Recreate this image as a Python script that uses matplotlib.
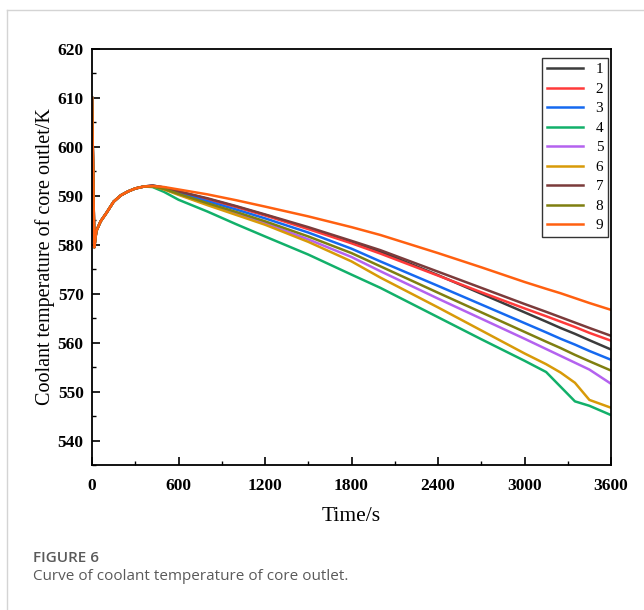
import matplotlib
matplotlib.use('Agg')
import matplotlib.pyplot as plt
from matplotlib.ticker import MultipleLocator
from matplotlib.lines import Line2D

# shared start-up transient (all cases overlap here)
t_start = [0, 8, 16, 30, 60, 100, 150, 200, 250, 300, 360]
T_start = [610, 595, 579.5, 582.8, 584.8, 586.5, 588.8, 590.1, 590.9, 591.5, 591.9]

# per-case decline after the peak
t_tail = [420, 500, 600, 800, 1000, 1200, 1500, 1800, 2000, 2400, 2700, 3000, 3150, 3250, 3350, 3450, 3600]

T1 = [592.1, 591.7, 590.9, 589.4, 587.8, 586.1, 583.4, 580.6, 578.6, 573.8, 570.0, 566.2, 564.3, 563.0, 561.8, 560.5, 558.6]
T2 = [592.0, 591.6, 590.8, 589.3, 587.7, 586.0, 583.2, 580.3, 578.2, 573.7, 570.3, 567.0, 565.4, 564.3, 563.2, 562.0, 560.4]
T3 = [592.0, 591.5, 590.6, 588.9, 587.2, 585.4, 582.5, 579.2, 576.6, 571.6, 567.8, 564.0, 562.1, 560.8, 559.6, 558.3, 556.5]
T4 = [591.8, 590.8, 589.2, 586.8, 584.2, 581.7, 578.0, 573.9, 571.2, 565.2, 560.7, 556.3, 554.0, 551.0, 548.0, 547.1, 545.2]
T5 = [592.0, 591.4, 590.3, 588.3, 586.4, 584.4, 581.1, 577.5, 574.6, 569.0, 564.9, 560.8, 558.7, 557.3, 555.9, 554.5, 551.6]
T6 = [591.9, 591.3, 590.2, 588.1, 586.1, 584.1, 580.6, 576.6, 573.3, 567.2, 562.5, 557.8, 555.6, 553.9, 551.8, 548.3, 546.7]
T7 = [592.1, 591.7, 590.9, 589.5, 587.9, 586.2, 583.6, 580.8, 578.9, 574.5, 571.2, 567.9, 566.3, 565.2, 564.1, 563.0, 561.4]
T8 = [591.9, 591.4, 590.4, 588.5, 586.7, 584.8, 581.7, 578.3, 575.6, 570.2, 566.2, 562.2, 560.2, 558.9, 557.5, 556.2, 554.3]
T9 = [592.0, 591.8, 591.3, 590.3, 589.1, 587.8, 585.8, 583.6, 582.0, 578.3, 575.4, 572.4, 571.0, 570.1, 569.1, 568.1, 566.7]

labels = ['1', '2', '3', '4', '5', '6', '7', '8', '9']
series = [T1, T2, T3, T4, T5, T6, T7, T8, T9]
colors = ['#3c3c3c', '#ff3a3a', '#1569f0', '#12b06a', '#b462ef',
          '#d89a08', '#7b3b3b', '#7f7f10', '#ff6010']

serif = ['Liberation Serif', 'DejaVu Serif']

fig = plt.figure(figsize=(6.44, 6.10), dpi=100)
# card border lines
fig.add_artist(Line2D([7/644, 7/644], [0, 1 - 10/610], color='#d4d4d4', lw=1))
fig.add_artist(Line2D([7/644, 1], [1 - 10/610, 1 - 10/610], color='#d4d4d4', lw=1))

ax = fig.add_axes([92/644, 1 - 465/610, 519/644, 416/610])
t_full = t_start + t_tail
for lab, y, c in zip(labels, series, colors):
    ax.plot(t_full, T_start + y, color=c, lw=1.8, label=lab)

ax.set_xlim(0, 3600)
ax.set_ylim(535, 620)
ax.xaxis.set_major_locator(MultipleLocator(600))
ax.xaxis.set_minor_locator(MultipleLocator(300))
ax.yaxis.set_major_locator(MultipleLocator(10))
ax.yaxis.set_minor_locator(MultipleLocator(5))
ax.tick_params(which='major', direction='in', length=6, width=1.2, labelsize=12.5, pad=6)
ax.tick_params(which='minor', direction='in', length=3, width=1)
ax.tick_params(axis='x', which='major', pad=9)
for lbl in ax.get_xticklabels() + ax.get_yticklabels():
    lbl.set_family(serif)
    lbl.set_fontweight('bold')
for s in ax.spines.values():
    s.set_linewidth(1.3)

ax.set_xlabel('Time/s', family=serif, fontsize=15.5, labelpad=10)
ax.set_ylabel('Coolant temperature of core outlet/K', family=serif, fontsize=14.5, labelpad=2)

leg = ax.legend(loc='upper right', bbox_to_anchor=(0.994, 0.978), borderaxespad=0,
                prop={'family': serif, 'size': 11}, handlelength=2.4,
                labelspacing=0.38, fancybox=False, edgecolor='#333333',
                framealpha=1, borderpad=0.3, handletextpad=0.8)
leg.get_frame().set_linewidth(1)

fig.text(33/644, 1 - 558/610, 'FIGURE 6', family=['Open Sans', 'DejaVu Sans'],
         fontsize=11, fontweight='semibold', color='#5a5a5a', va='center')
fig.text(33/644, 1 - 577/610, 'Curve of coolant temperature of core outlet.',
         family=['Open Sans', 'DejaVu Sans'], fontsize=11, color='#5a5a5a', va='center')

fig.savefig('out.png', dpi=100)
